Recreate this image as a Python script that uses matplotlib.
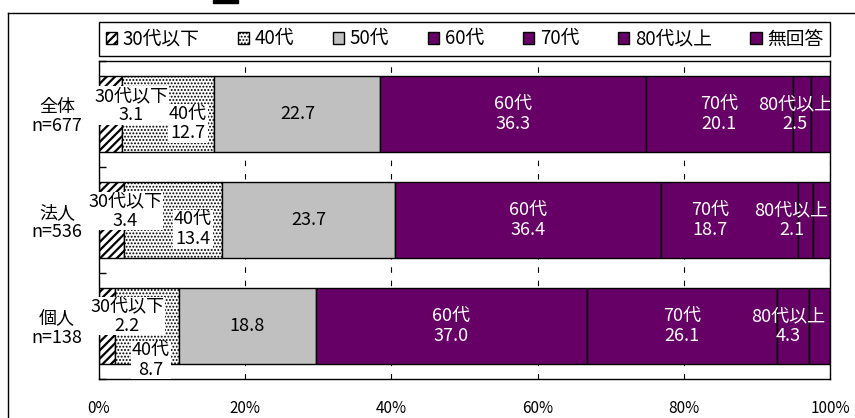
import numpy as np
import matplotlib.pyplot as plt
from matplotlib.patches import Patch, Rectangle
from matplotlib.lines import Line2D

plt.rcParams['font.family'] = ['Noto Sans CJK JP', 'DejaVu Sans']
plt.rcParams['hatch.linewidth'] = 1.6

groups = ['全体', '法人', '個人']
counts = [677, 536, 138]
series = ['30代以下', '40代', '50代', '60代', '70代', '80代以上', '無回答']

age30 = [3.1, 3.4, 2.2]
age40 = [12.7, 13.4, 8.7]
age50 = [22.7, 23.7, 18.8]
age60 = [36.3, 36.4, 37.0]
age70 = [20.1, 18.7, 26.1]
age80 = [2.5, 2.1, 4.3]
no_answer = [2.6, 2.3, 2.9]

x_ticks = [0, 20, 40, 60, 80, 100]

PURPLE = '#660066'
faces = ['white', 'white', '#c0c0c0', PURPLE, PURPLE, PURPLE, PURPLE]
hatches = ['////', '.....', None, None, None, None, None]
hatch_lw = [1.6, 0.9, 1, 1, 1, 1, 1]
text_cols = ['black', 'black', 'black', 'white', 'white', 'white', 'white']

# label nudges in pixels (row, series) -> (dx, dy)
shift = {(0, 0): (21, 8.5), (0, 1): (20, -9.5),
         (1, 0): (14, 9), (1, 1): (20, -9),
         (2, 0): (20, 10), (2, 1): (4, -34),
         (1, 4): (-19, 0),
         (0, 5): (-7, 0), (1, 5): (-14, 0), (2, 5): (-5, 0)}


def set_hlw(p, lw):
    if hasattr(p, 'set_hatch_linewidth'):
        p.set_hatch_linewidth(lw)


def main():
    data = [age30, age40, age50, age60, age70, age80, no_answer]
    fig = plt.figure(figsize=(8.55, 4.18), dpi=100)
    ax = fig.add_axes([99 / 855, 1 - 379 / 418, 731 / 855, 318 / 418])

    y = np.arange(len(groups))
    left = np.zeros(len(groups))
    for i, vals in enumerate(data):
        vals = np.array(vals)
        bars = ax.barh(y, vals, left=left, height=0.726, color=faces[i],
                       edgecolor='black', linewidth=1, hatch=hatches[i], zorder=2)
        for b in bars:
            set_hlw(b, hatch_lw[i])
        for j, v in enumerate(vals):
            if i == 6:
                continue
            txt = f'{v:.1f}' if i == 2 else f'{series[i]}\n{v:.1f}'
            dx, dy = shift.get((j, i), (0, 0))
            kw = {}
            if i < 2:
                kw['bbox'] = dict(facecolor='white', edgecolor='none', pad=0.5)
            ax.annotate(txt, (left[j] + v / 2, y[j]), xytext=(dx, dy),
                        textcoords='offset pixels', ha='center', va='center',
                        multialignment='center', fontsize=13, linespacing=1.1,
                        color=text_cols[i], clip_on=(i >= 2), zorder=4, **kw)
        left += vals

    ax.set_xlim(0, 100)
    ax.set_ylim(2.5, -0.5)
    ax.set_xticks(x_ticks)
    ax.set_xticklabels([f'{t}%' for t in x_ticks], fontsize=11)
    ax.set_yticks(y)
    ax.set_yticklabels([f'{g}\nn={n}' for g, n in zip(groups, counts)],
                       fontsize=13, multialignment='center', linespacing=1.05)
    ax.set_yticks([-0.5, 0.5, 1.5, 2.5], minor=True)
    ax.tick_params(axis='x', length=0, pad=15)
    ax.tick_params(axis='y', which='major', length=0, pad=12)
    ax.tick_params(axis='y', which='minor', direction='in', length=5, width=1)
    ax.xaxis.grid(True, color='black', linewidth=0.8, linestyle=(0, (5, 7)))
    ax.set_axisbelow(True)
    for s in ax.spines.values():
        s.set_color('black')
        s.set_linewidth(1)

    handles = [Patch(facecolor=faces[i], edgecolor='black', hatch=hatches[i],
                     linewidth=1, label=series[i]) for i in range(len(series))]
    leg = ax.legend(handles=handles, loc='lower left', ncol=7, mode='expand',
                    bbox_to_anchor=(0, 1 + 5 / 318, 1, 32 / 318),
                    borderaxespad=0, fontsize=13.5, fancybox=False,
                    edgecolor='black', framealpha=1, handlelength=0.6,
                    handleheight=0.6, handletextpad=0.3, borderpad=0.35)
    leg.get_frame().set_linewidth(1)
    for h, lw in zip(leg.get_patches(), hatch_lw):
        set_hlw(h, lw)

    # outer chart frame and cropped fragment at top
    fig.add_artist(Line2D([7.5 / 855, 7.5 / 855], [0, 1 - 12.5 / 418],
                          color='black', lw=1))
    fig.add_artist(Line2D([7.5 / 855, 1], [1 - 12.5 / 418, 1 - 12.5 / 418],
                          color='black', lw=1))
    fig.add_artist(Rectangle((213 / 855, 1 - 2.5 / 418), 25 / 855, 2.5 / 418,
                             transform=fig.transFigure, color='black'))

    fig.savefig('out.png', dpi=100)


if __name__ == '__main__':
    main()
